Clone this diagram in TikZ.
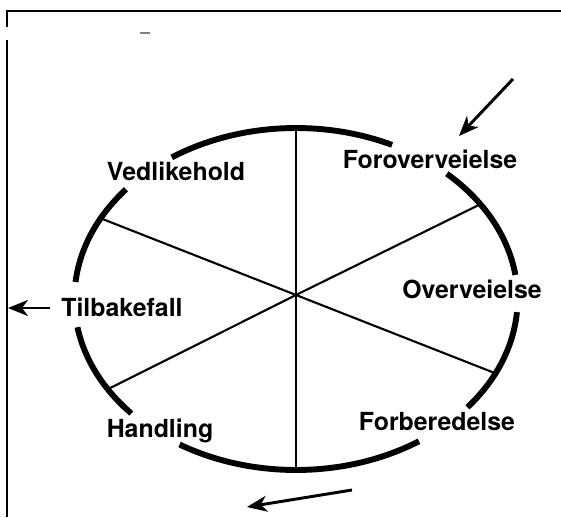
\documentclass[tikz,border=0pt]{standalone}
\usepackage{fontspec}
\setsansfont{TeX Gyre Heros}
\usetikzlibrary{arrows.meta, positioning}
\tikzset{
  rim/.style={line width=4.2pt},
  spoke/.style={line width=1.5pt},
  stage/.style={font=\sffamily\bfseries\fontsize{17.7}{20}\selectfont, inner sep=0pt},
  cue/.style={-{Stealth[length=5mm, width=4mm, inset=1.5mm]}, line width=2.1pt},
  frameline/.style={line width=1.3pt}
}
\begin{document}
\begin{tikzpicture}
      \useasboundingbox (-7.4,-5.55) rectangle (6.625,7.375);
      % frame of the scan
      \draw[frameline] (6.625,7.1) -- (-7.225,7.1) -- (-7.225,6.7);
      \draw[frameline] (-7.225,6.375) -- (-7.225,-5.55);
      \draw[gray, line width=0.8pt] (-3.9,6.55) -- (-3.65,6.55);
      % wheel
      \coordinate (rimc) at (0,-0.1);
      \foreach \a/\b in {8.1/47.1, 64.3/124.1, 140.1/174.3, 189.5/222, 238.3/303.7, 320.7/355.6}
         \draw[rim] (rimc) ++(\a:5.54 and 4.275) arc[start angle=\a, end angle=\b, x radius=5.54, y radius=4.275];
      \coordinate (hub) at (0,0);
      \coordinate (rimN) at (0,4.175);
      \coordinate (rimS) at (0,-4.375);
      \coordinate (rimNW) at (-4.884,1.918);
      \coordinate (rimSE) at (4.989,-1.959);
      \coordinate (rimNE) at (4.61,2.27);
      \coordinate (rimSW) at (-4.705,-2.357);
      \draw[spoke] (rimN) -- (hub) -- (rimS);
      \draw[spoke] (rimNW) -- (hub) -- (rimSE);
      \draw[spoke] (rimNE) -- (hub) -- (rimSW);
      % stages
      \node[stage] (vedlikehold) at (-3.0,3.1) {Vedlikehold};
      \node[stage] (foroverveielse) at (3.35,3.4) {Foroverveielse};
      \node[stage] (overveielse) at (4.4,0.15) {Overveielse};
      \node[stage] (tilbakefall) at (-4.35,-0.3) {Tilbakefall};
      \node[stage] (handling) at (-3.4,-3.4) {Handling};
      \node[stage] (forberedelse) at (3.525,-3.175) {Forberedelse};
      % entry and exit arrows
      \coordinate (inTail) at (5.425,5.4);
      \coordinate (inTip) at (4.075,3.975);
      \coordinate (outTail) at (-6.15,-0.325);
      \coordinate (outTip) at (-7.2,-0.325);
      \coordinate (turnTail) at (1.4,-4.875);
      \coordinate (turnTip) at (-1.225,-5.3);
      \draw[cue] (inTail) -- (inTip);
      \draw[cue] (outTail) -- (outTip);
      \draw[cue] (turnTail) -- (turnTip);
   \end{tikzpicture}
\end{document}
